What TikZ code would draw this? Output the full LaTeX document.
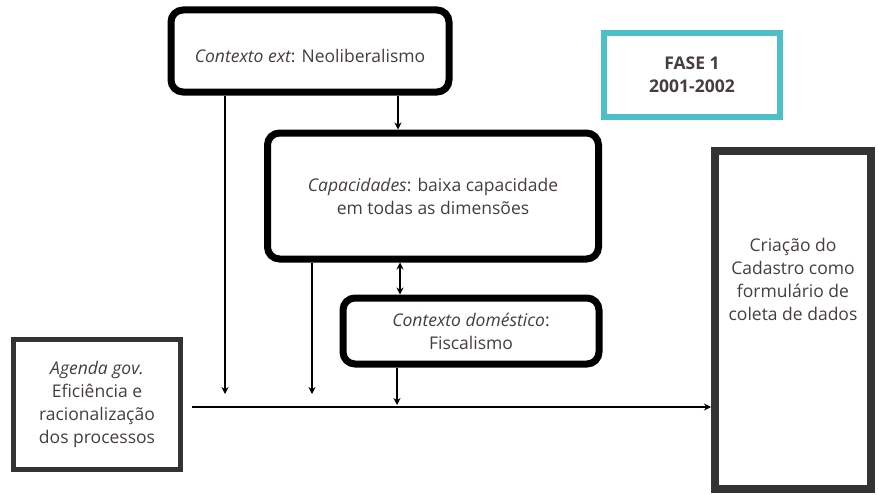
\documentclass[tikz,border=0pt]{standalone}
\usepackage{fontspec}
\setmainfont{Open Sans}
\usetikzlibrary{positioning,arrows.meta}
\definecolor{texto}{HTML}{463D3D}
\definecolor{fase}{HTML}{4DBFC8}
\definecolor{escuro}{HTML}{333333}
\tikzset{->, % all connectors are directed
>={Stealth[length=7pt,width=7pt]}, % small solid arrow heads
x=1pt, y=-1pt, % one unit is one pixel of the sketch
every node/.style={text=texto, align=center, font=\fontsize{17.5}{23}\selectfont}, % text look
}

\begin{document}
\begin{tikzpicture}[line width=1.5pt,
	caixa/.style={draw=black, line width=7pt, rounded corners=12pt, inner sep=0pt},
	bloco/.style={draw=escuro, line width=#1, inner sep=0pt}]
\useasboundingbox (0,0) rectangle (878,495);
% caixas
\node[caixa, minimum width=278pt, minimum height=82pt] (ext) at (310,51) {};
\node (exttxt) at (310,56) {\itshape Contexto ext\upshape: Neoliberalismo};
\node[bloco=6pt, draw=fase, minimum width=176pt, minimum height=83pt, font=\fontsize{17.5}{23}\selectfont\bfseries] (fase) at (692,75) {FASE 1\\2001-2002};
\node[caixa, minimum width=331pt, minimum height=126pt] (cap) at (433,196) {\itshape Capacidades\upshape: baixa capacidade\\em todas as dimensões};
\node[caixa, minimum width=256pt, minimum height=66pt] (dom) at (471,331) {\itshape Contexto doméstico\upshape:\\Fiscalismo};
\node[bloco=5pt, minimum width=167pt, minimum height=130pt] (agenda) at (97,404) {\itshape Agenda gov.\\Eficiência e\\racionalização\\dos processos};
\node[bloco=8pt, minimum width=156pt, minimum height=338pt] (cad) at (793,320) {};
\node (cadtxt) at (793,279) {Criação do\\Cadastro como\\formulário de\\coleta de dados};
% pontos sobre o eixo
\coordinate (p1) at (225,407);
\coordinate (p2) at (312,407);
\coordinate (p3) at (397,407);
% conectores
\draw (ext.south -| p1) -- ([yshift=13pt]p1);
\draw (ext.south -| 398,0) -- (cap.north -| 398,0);
\draw (cap.south -| p2) -- ([yshift=13pt]p2);
\draw[<->] (cap.south -| 400,0) -- (dom.north -| 400,0);
\draw (dom.south -| p3) -- ([yshift=2pt]p3);
\draw[shorten <=9pt] (agenda.east |- p1) -- (cad.west |- p1);
\end{tikzpicture}
\end{document}
